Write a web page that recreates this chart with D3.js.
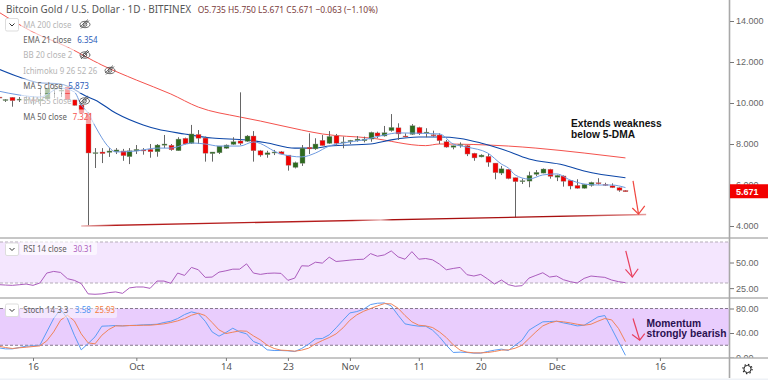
<!DOCTYPE html>
<html>
<head>
<meta charset="utf-8">
<script src="https://cdn.jsdelivr.net/npm/d3@7"></script>
<style>
  html, body { margin: 0; padding: 0; background: #fff; overflow: hidden; }
  svg { display: block; }
  text { font-family: "Noto Sans", sans-serif; }
  .axis text { font-family: "Liberation Sans", sans-serif; font-size: 9px; fill: #666; }
  .axis line { stroke: #777; }
  .axis path { display: none; }
</style>
</head>
<body>
<div id="chart"></div>
<script>
// daily candles, first one is 11 Sep, last one is 11 Dec
const firstDay = new Date(Date.UTC(2019, 8, 11));
const opens = [10.29,10.12,10.28,10.15,10.17,10.16,10.1,10.19,10.68,10.58,10.78,10.15,9.9,9.51,7.57,7.61,7.59,7.62,7.66,7.38,7.66,7.71,7.74,7.62,7.94,7.94,7.67,8.28,8.03,8.47,8.29,7.53,7.57,7.79,7.98,8.15,8.13,8.39,7.67,7.48,7.56,7.62,7.46,6.86,7.06,7.84,7.76,8.18,8.03,8.4,8.06,8.11,8.16,8.16,8.24,8.54,8.39,8.65,8.79,8.39,8.47,8.81,8.55,8.45,8.44,8.11,7.84,7.92,7.92,7.55,7.37,7.4,7.07,6.58,6.77,6.36,6.16,6.19,6.52,6.58,6.77,6.38,6.44,6.23,5.98,5.84,5.98,6.11,6.03,5.96,5.87,5.735];
const highs = [10.4,10.19,10.29,10.29,10.34,10.34,10.73,10.73,10.88,10.78,10.83,10.15,9.9,9.56,7.8,7.8,7.8,7.8,7.76,7.8,7.95,7.8,8.0,8.0,8.44,8.0,8.33,8.31,8.93,8.68,8.36,7.61,7.9,7.98,8.33,10.52,8.44,8.63,7.71,7.67,7.71,7.66,7.46,7.14,7.95,8.52,8.28,8.44,8.63,8.49,8.36,8.2,8.39,8.36,8.6,8.6,8.88,9.46,9.01,8.52,8.97,8.84,8.77,8.65,8.52,8.2,7.92,8.08,7.95,7.57,7.5,7.51,7.07,6.93,6.77,6.36,6.31,6.65,6.73,6.81,6.79,6.5,6.47,6.24,6.28,6.05,6.16,6.33,6.11,6.08,5.89,5.75];
const lows = [10.2,10.05,9.82,10.05,10.0,9.9,9.85,10.17,10.24,10.29,10.15,9.88,9.51,4.01,6.83,7.07,7.37,7.51,7.18,7.02,7.51,7.48,7.33,7.38,7.8,7.67,7.66,7.98,8.0,8.0,7.14,7.14,7.51,7.76,7.95,7.95,8.1,7.14,7.38,7.33,7.46,7.5,6.7,6.81,6.93,7.51,7.71,7.92,8.0,7.9,7.79,8.0,8.11,8.08,8.11,8.28,8.36,8.6,8.2,8.33,8.44,8.44,8.33,8.36,8.0,7.82,7.74,7.82,7.41,7.18,7.35,6.89,6.28,6.49,6.28,4.42,6.05,5.89,6.44,6.57,6.31,6.19,5.92,5.79,5.82,5.82,5.92,6.02,5.95,5.85,5.67,5.671];
const closes = [10.25,10.17,10.11,10.19,10.19,10.13,10.19,10.73,10.73,10.63,10.15,9.88,9.51,7.56,7.58,7.53,7.66,7.71,7.43,7.67,7.74,7.66,7.62,7.95,8.0,7.72,8.24,8.0,8.49,8.28,7.55,7.61,7.9,7.95,8.11,8.03,8.39,7.67,7.46,7.57,7.61,7.51,6.96,7.09,7.8,7.76,8.0,7.92,8.37,8.03,8.1,8.18,8.24,8.24,8.57,8.39,8.55,8.81,8.49,8.36,8.89,8.5,8.58,8.4,8.16,7.85,7.92,7.98,7.51,7.32,7.46,7.11,6.6,6.79,6.31,6.16,6.21,6.47,6.62,6.78,6.42,6.47,6.18,5.95,5.84,6.03,6.13,6.06,6.01,5.87,5.74,5.671];

// moving averages, read at the bends: day = days after 16 Sep
const ma5Days = [-5,-2,1,4,6,7,8,9,11,12,15,18,20,23,25,27,30,32,36,39,41,43,45,48,51,53,59,61,63,66,68,69,70,72,74,76,78,80,82,84,86];
const ma5 = [10.58,10.39,10.29,10.73,10.54,9.9,9.51,8.88,7.85,7.61,7.66,7.8,7.8,8.05,8.0,7.9,7.9,8.1,7.51,7.37,7.56,7.9,8.05,8.2,8.44,8.54,8.49,8.0,7.85,7.56,7.02,6.83,6.49,6.29,6.49,6.54,6.24,6.05,6.0,6.0,5.873];
const ema21Days = [-5,-2,1,4,8,9,12,16,18,22,26,31,34,38,41,43,49,52,56,59,62,65,68,72,77,80,86];
const ema21 = [11.66,11.27,10.98,10.93,10.29,10.15,9.51,8.93,8.73,8.49,8.29,8.2,8.05,7.8,7.8,7.9,8.0,8.2,8.34,8.34,8.27,8.05,7.76,7.27,6.98,6.68,6.354];
const ma50Days = [-5,0,5,10,15,20,24,30,33,39,42,49,57,59,69,73,80,86];
const ma50 = [14.44,13.46,12.73,11.85,11.12,10.44,9.8,9.32,9.12,8.68,8.49,8.29,7.92,8.0,7.9,7.8,7.56,7.321];

// oscillators, one value per candle
const rsi = [28.4,28,27.7,28.3,29,27.7,30,39.7,41.3,40.3,34.2,32.6,29.4,19.4,19,19.4,20.6,21.3,19.9,25.2,26.1,26.1,24.8,31.9,31.9,29.7,39.7,37.4,45.2,42.9,35.5,35.8,40.6,41.9,43.5,43.5,48.7,39.7,38.4,39.4,39.7,39.4,32.6,34.8,46.8,46.5,50.3,49.4,55.2,51,51.6,52.3,52.9,53.2,58.7,56.1,57.4,61.3,55.5,53.2,60.6,53.2,53.9,52.6,48.4,42.9,44.2,45.2,38.1,36.8,38.4,33.9,29,32.9,28.4,26.8,27.4,34.8,37.4,40,35.8,36.8,33.2,31.3,30,34.5,36.8,36.1,35.5,32.9,31.3,30.31];
const stochK = [15.8,14.1,14.1,16.3,18.5,19,20.1,41.8,63.6,78.8,63.6,36.4,12.5,22.8,33.7,51.1,51.6,52.2,51.6,52.2,52.7,53.3,53.8,54.3,57.1,59.2,63.6,70.1,74.5,71.7,59.2,41.8,34.8,40.8,47.8,41.8,38.6,26.1,21.7,12.5,11.4,11.4,10.9,9.8,14.7,21.7,30.4,31,37,48.4,60.9,72.8,75,78.8,86.4,88.6,89.1,84.2,69,54.9,52.7,51.1,51.1,44.6,33.7,20.1,8.2,8.7,8.2,7.1,7.1,9.8,12,13.6,11.4,20.1,28.3,44.6,51.6,58.2,58.7,59.2,56.5,54.3,51.6,52.7,59.2,66.3,68.5,47.3,25.5,3.58];
const stochD = [18.5,16.3,14.7,15.8,16.8,17.9,19,27.2,41.8,60.9,69,59.8,38.6,23.9,22.3,36.4,45.7,51.6,51.6,52.2,52.2,52.7,52.7,53.8,54.9,57.1,59.8,63.6,69,72.3,68.5,57.1,45.1,39.1,41.3,43.5,42.9,35.3,28.8,20.1,14.7,12,11.4,10.3,12,15.2,22.3,27.7,32.6,38.6,48.4,60.9,69.6,75.5,79.9,84.2,88,87.5,80.4,68.5,58.2,52.7,51.6,48.9,41.8,32.6,20.7,12,8.7,7.6,7.6,8.2,9.8,12,12.5,15.2,20.1,31,41.8,51.6,56.5,59.2,58.2,56.5,54.3,52.7,54.3,59.2,63.6,61.4,47.3,25.93];

// tick labels
const priceTicks = [4, 6, 8, 10, 12, 14];
const rsiTicks = [25, 50];
const stochTicks = [0, 40, 80];
const timeTicks = [
  [Date.UTC(2019, 8, 16), "16"], [Date.UTC(2019, 9, 1), "Oct"], [Date.UTC(2019, 9, 14), "14"],
  [Date.UTC(2019, 9, 23), "23"], [Date.UTC(2019, 10, 1), "Nov"], [Date.UTC(2019, 10, 11), "11"],
  [Date.UTC(2019, 10, 20), "20"], [Date.UTC(2019, 11, 1), "Dec"], [Date.UTC(2019, 11, 16), "16"]
];

// drawn annotations, as [day, value]
const trendLine = [[7, 4.0], [89, 4.56]];
const priceArrow = [[87.1, 6.2], [87.9, 4.58]];
const priceArrowHead = [[87, 4.88], [87.9, 4.58], [88.8, 4.98]];
const rsiArrow = [[86.05, 61.3], [87, 35.8]];
const rsiArrowHead = [[86, 43.2], [87, 35.8], [87.85, 43.9]];
const stochArrow = [[87.1, 63.6], [88.07, 28.3]];
const stochArrowHead = [[86.96, 37.5], [88.07, 28.3], [88.8, 39.1]];

const width = 768;
const height = 380;
const plotRight = 729;

const svg = d3.select("#chart").append("svg")
  .attr("width", width)
  .attr("height", height);

const dayOf = d => d3.utcDay.offset(new Date(Date.UTC(2019, 8, 16)), d);
const dates = opens.map((d, i) => d3.utcDay.offset(firstDay, i));

const xScale = d3.scaleUtc()
  .domain([new Date(Date.UTC(2019, 8, 16)), new Date(Date.UTC(2019, 11, 16))])
  .range([33, 659.9]);
const xDay = d => xScale(dayOf(0)) + d * (xScale(dayOf(1)) - xScale(dayOf(0)));

const yPrice = d3.scaleLinear().domain([4, 14]).range([226, 21]);
const yRsi = d3.scaleLinear().domain([30, 70]).range([283, 242]);
const yStoch = d3.scaleLinear().domain([0, 80]).range([357.5, 308.5]);

// clips for the three panes
const defs = svg.append("defs");
const addClip = (id, y0, y1) => defs.append("clipPath").attr("id", id)
  .append("rect").attr("x", 0).attr("y", y0).attr("width", plotRight).attr("height", y1 - y0);
addClip("clip-price", 0, 238);
addClip("clip-rsi", 238, 298);
addClip("clip-stoch", 298, 358);
defs.append("clipPath").attr("id", "clip-stoch-axis")
  .append("rect").attr("x", plotRight).attr("y", 298).attr("width", 40).attr("height", 59.5);

const grad = defs.append("linearGradient").attr("id", "trend-grad")
  .attr("gradientUnits", "userSpaceOnUse")
  .attr("x1", xDay(trendLine[0][0])).attr("x2", xDay(trendLine[1][0]))
  .attr("y1", 0).attr("y2", 0);
[[0, "#eebcbc"], [0.06, "#b51d1d"], [0.48, "#b51d1d"], [0.53, "#e8b0b0"], [0.55, "#a80f0f"], [0.85, "#a80f0f"], [1, "#e79a9a"]]
  .forEach(s => grad.append("stop").attr("offset", s[0]).attr("stop-color", s[1]));

/* bands */
const bandGroup = svg.append("g");
const drawBand = (scale, hi, lo, fill, dash) => {
  bandGroup.append("rect")
    .attr("x", 0).attr("width", plotRight)
    .attr("y", scale(hi)).attr("height", scale(lo) - scale(hi))
    .attr("fill", fill);
  [hi, lo].forEach(v => bandGroup.append("line")
    .attr("x1", 0).attr("x2", plotRight)
    .attr("y1", scale(v)).attr("y2", scale(v))
    .attr("stroke", dash).attr("stroke-dasharray", "3,2"));
};
drawBand(yRsi, 70, 30, "#f4e6fe", "#b5adb8");
drawBand(yStoch, 80, 20, "#e9cdfd", "#84788c");

/* price pane */
const pricePane = svg.append("g").attr("clip-path", "url(#clip-price)");

const knotLine = (days, vals, color, w) => {
  pricePane.append("path")
    .datum(days.map((d, i) => [d, vals[i]]))
    .attr("fill", "none")
    .attr("stroke", color)
    .attr("stroke-width", w)
    .attr("d", d3.line().x(d => xDay(d[0])).y(d => yPrice(d[1])).curve(d3.curveMonotoneX));
};
knotLine(ma50Days, ma50, "#f4524d", 1);
knotLine(ema21Days, ema21, "#0d47a8", 1.1);

const candle = pricePane.selectAll("g.candle")
  .data(dates)
  .join("g")
  .attr("class", "candle");

candle.append("line")
  .attr("x1", d => Math.round(xScale(d)) + 0.5)
  .attr("x2", d => Math.round(xScale(d)) + 0.5)
  .attr("y1", (d, i) => yPrice(highs[i]))
  .attr("y2", (d, i) => yPrice(lows[i]))
  .attr("stroke", "#666");

candle.append("rect")
  .attr("x", d => Math.round(xScale(d)) - 2)
  .attr("width", 5)
  .attr("y", (d, i) => yPrice(Math.max(opens[i], closes[i])))
  .attr("height", (d, i) => Math.max(1, Math.abs(yPrice(opens[i]) - yPrice(closes[i]))))
  .attr("fill", (d, i) => closes[i] >= opens[i] ? "#2d6a1e" : "#f20000")
  .attr("stroke", "#9a9a9a")
  .attr("stroke-width", 0.4);

knotLine(ma5Days, ma5, "#6f9be0", 1);

pricePane.append("line")
  .attr("x1", xDay(trendLine[0][0])).attr("x2", xDay(trendLine[1][0]))
  .attr("y1", yPrice(trendLine[0][1])).attr("y2", yPrice(trendLine[1][1]))
  .attr("stroke", "url(#trend-grad)")
  .attr("stroke-width", 1.3);

const drawArrow = (g, scale, shaft, head, color) => {
  const l = d3.line().x(d => xDay(d[0])).y(d => scale(d[1]));
  [shaft, head].forEach(pts => g.append("path")
    .attr("d", l(pts))
    .attr("fill", "none")
    .attr("stroke", color)
    .attr("stroke-width", 1.2));
};
drawArrow(pricePane, yPrice, priceArrow, priceArrowHead, "#f0463f");

// squeeze a text to the width it has in the picture
const fit = (sel, w) => sel.attr("textLength", w).attr("lengthAdjust", "spacingAndGlyphs");

[["Extends weakness", 90.7], ["below 5-DMA", 64]].forEach(([t, w], i) => {
  fit(pricePane.append("text"), w)
    .attr("x", 571)
    .attr("y", 126.5 + i * 11)
    .attr("font-size", 11)
    .attr("font-weight", 700)
    .attr("fill", "#111")
    .style("font-family", "'Liberation Sans', sans-serif")
    .text(t);
});

/* RSI pane */
const rsiPane = svg.append("g").attr("clip-path", "url(#clip-rsi)");
rsiPane.append("path")
  .datum(rsi)
  .attr("fill", "none")
  .attr("stroke", "#ab5cbd")
  .attr("d", d3.line().x((d, i) => xScale(dates[i])).y(d => yRsi(d)));
drawArrow(rsiPane, yRsi, rsiArrow, rsiArrowHead, "#e8405e");

/* Stoch pane */
const stochPane = svg.append("g").attr("clip-path", "url(#clip-stoch)");
[[stochK, "#5a9bf5"], [stochD, "#f0845a"]].forEach(([vals, color]) => {
  stochPane.append("path")
    .datum(vals)
    .attr("fill", "none")
    .attr("stroke", color)
    .attr("d", d3.line().x((d, i) => xScale(dates[i])).y(d => yStoch(d)));
});
drawArrow(stochPane, yStoch, stochArrow, stochArrowHead, "#e8405e");

[["Momentum", 54.5], ["strongly bearish", 80]].forEach(([t, w], i) => {
  fit(stochPane.append("text"), w)
    .attr("x", 646.5)
    .attr("y", 326.5 + i * 10.5)
    .attr("font-size", 11)
    .attr("font-weight", 700)
    .attr("fill", "#2a1050")
    .style("font-family", "'Liberation Sans', sans-serif")
    .text(t);
});

/* pane separators and axes */
[238, 298, 358].forEach(y => svg.append("line")
  .attr("x1", 0).attr("x2", width)
  .attr("y1", y).attr("y2", y)
  .attr("stroke", "#8e8e8e").attr("stroke-width", 1));

svg.append("line")
  .attr("x1", plotRight + 0.5).attr("x2", plotRight + 0.5)
  .attr("y1", 0).attr("y2", 378)
  .attr("stroke", "#a8a8a8").attr("stroke-width", 1.6);

const rightAxis = (scale, ticks, fmt) => d3.axisRight(scale)
  .tickValues(ticks).tickSize(4).tickPadding(2).tickFormat(fmt);

svg.append("g").attr("class", "axis")
  .attr("transform", `translate(${plotRight + 1},0)`)
  .call(rightAxis(yPrice, priceTicks, d3.format(".3f")));
svg.append("g").attr("class", "axis")
  .attr("transform", `translate(${plotRight + 1},0)`)
  .call(rightAxis(yRsi, rsiTicks, d3.format(".2f")));
svg.append("g").attr("clip-path", "url(#clip-stoch-axis)")
  .append("g").attr("class", "axis")
  .attr("transform", `translate(${plotRight + 1},0)`)
  .call(rightAxis(yStoch, stochTicks, d3.format(".2f")));

const timeAxis = svg.append("g").attr("class", "axis")
  .attr("transform", "translate(0,358)")
  .call(d3.axisBottom(xScale)
    .tickValues(timeTicks.map(t => new Date(t[0])))
    .tickSize(3).tickPadding(2)
    .tickFormat((d, i) => timeTicks[i][1]));
timeAxis.selectAll("text").style("font-family", "'Noto Sans', sans-serif").style("font-size", "9.5px").style("fill", "#555");

// last price tag
svg.append("rect")
  .attr("x", plotRight + 1).attr("width", 38)
  .attr("y", yPrice(closes[closes.length - 1]) - 7.5).attr("height", 14)
  .attr("fill", "#f20000");
svg.append("text")
  .attr("x", 736).attr("y", yPrice(closes[closes.length - 1]) + 3)
  .attr("font-size", 9).attr("font-weight", 700).attr("fill", "#fff")
  .style("font-family", "'Liberation Sans', sans-serif")
  .text(d3.format(".3f")(closes[closes.length - 1]));

// gear in the corner
svg.append("circle").attr("cx", 747.5).attr("cy", 369).attr("r", 3.6)
  .attr("fill", "none").attr("stroke", "#222").attr("stroke-width", 1);
svg.append("circle").attr("cx", 747.5).attr("cy", 369).attr("r", 4.6)
  .attr("fill", "none").attr("stroke", "#222").attr("stroke-width", 1.2).attr("stroke-dasharray", "1.4,2.21");

svg.append("rect").attr("x", 0).attr("y", 378.5).attr("width", width).attr("height", 1.5).attr("fill", "#eef1f6");

/* legend */
const legend = svg.append("g");

const chip = (x, y, w, h, op) => legend.append("rect")
  .attr("x", x).attr("y", y).attr("width", w).attr("height", h)
  .attr("fill", "#fff").attr("opacity", op).attr("rx", 2);

const legendText = (x, y, t, w, color, size) => fit(legend.append("text"), w)
  .attr("x", x).attr("y", y)
  .attr("font-size", size || 9.5)
  .attr("fill", color)
  .text(t);

const legendRows = [
  { y: 27.5, label: "MA 200 close", lw: 48, w: 52, faded: true, eye: 85 },
  { y: 43, label: "EMA 21 close", lw: 48, value: "6.354", vx: 77.3, vw: 20.4, color: "#2a5bb8", w: 78 },
  { y: 58, label: "BB 20 close 2", lw: 49, w: 53, faded: true, eye: 85 },
  { y: 73.5, label: "Ichimoku 9 26 52 26", lw: 74, w: 78, faded: true, eye: 110 },
  { y: 89, label: "MA 5 close", lw: 39.5, value: "5.873", vx: 68.3, vw: 20.7, color: "#2a5bb8", w: 70 },
  { y: 104, label: "EMA 55 close", lw: 48, w: 52, faded: true, eye: 84.5 },
  { y: 120, label: "MA 50 close", lw: 43.5, value: "7.321", vx: 72.7, vw: 20, color: "#f4524d", w: 74 }
];

legendRows.forEach(r => {
  chip(21, r.y - 10.5, r.w, 14.5, 0.62);
  legendText(23.3, r.y, r.label, r.lw, r.faded ? "#b4b4b4" : "#5e5e5e");
  if (r.value) legendText(r.vx, r.y, r.value, r.vw, r.color);
  if (r.eye) {
    const eye = legend.append("g")
      .attr("transform", `translate(${r.eye},${r.y - 3})`)
      .attr("fill", "none").attr("stroke", "#444").attr("stroke-width", 0.8);
    eye.append("ellipse").attr("rx", 5).attr("ry", 3.2);
    eye.append("circle").attr("r", 1.8);
    eye.append("line").attr("x1", -4).attr("x2", 4).attr("y1", 4).attr("y2", -4);
    eye.append("line").attr("x1", -5).attr("x2", 3).attr("y1", 2.5).attr("y2", -5);
  }
});

legend.append("rect")
  .attr("x", 5.5).attr("y", 18.5).attr("width", 13).attr("height", 12.5).attr("rx", 1.5)
  .attr("fill", "#fff").attr("stroke", "#ddd");
legend.append("path")
  .attr("d", "M9.5,23.5 L12,26 L14.5,23.5")
  .attr("fill", "none").attr("stroke", "#333").attr("stroke-width", 1);

legendText(6, 13, "Bitcoin Gold / U.S. Dollar · 1D · BITFINEX", 185, "#555", 10.5);
legendText(197.7, 13, "O5.735  H5.750  L5.671  C5.671  −0.063 (−1.10%)", 180, "#7a3b3b");

// legends of the two lower panes
chip(20, 241, 77, 14, 0.6);
legendText(23.3, 252, "RSI 14 close", 43.4, "#5e5e5e");
legendText(73.3, 252, "30.31", 19.4, "#ab5cbd");

chip(20, 304, 97, 14, 0.5);
legendText(23.3, 312.5, "Stoch 14 3 3", 45, "#5e5e5e");
legendText(75, 312.5, "3.58", 15.7, "#4c94f2");
legendText(95, 312.5, "25.93", 20, "#f47b3a");

[[5.5, 243], [5.5, 304]].forEach(([x, y]) => {
  legend.append("rect").attr("x", x).attr("y", y).attr("width", 13).attr("height", 12.5).attr("rx", 1.5)
    .attr("fill", "#fff").attr("stroke", "#ddd");
  legend.append("path")
    .attr("d", `M${x + 4},${y + 5} L${x + 6.5},${y + 7.5} L${x + 9},${y + 5}`)
    .attr("fill", "none").attr("stroke", "#333").attr("stroke-width", 1);
});
</script>
</body>
</html>
